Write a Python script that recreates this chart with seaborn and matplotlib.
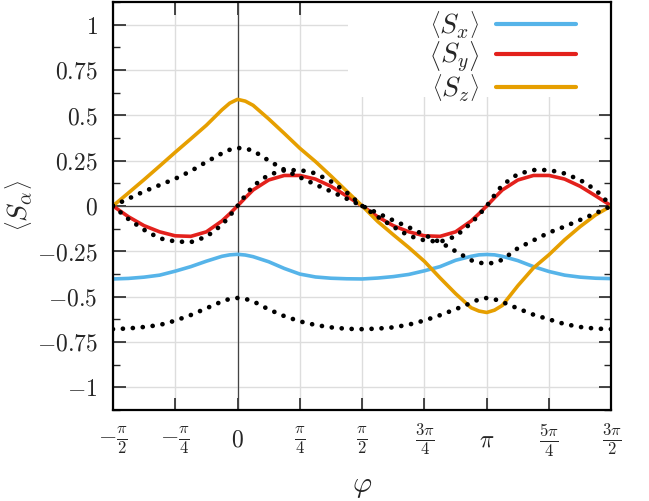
import numpy as np
import pandas as pd
import matplotlib
matplotlib.use("Agg")
import matplotlib.pyplot as plt
import seaborn as sns
from matplotlib.lines import Line2D
from matplotlib.patches import Rectangle

# sampling grid: multiples of pi/32 from -pi/2 to 3pi/2
phi_32nds = [-16, -14, -12, -10, -8, -6, -4, -2, -1, 0, 1, 2, 4, 6, 8, 10, 12, 14, 16,
             18, 20, 22, 24, 26, 28, 30, 31, 32, 33, 34, 36, 38, 40, 42, 44, 46, 48]

sx = [-0.403, -0.400, -0.393, -0.382, -0.360, -0.335, -0.305, -0.278, -0.270, -0.267,
      -0.271, -0.280, -0.308, -0.345, -0.376, -0.392, -0.399, -0.402, -0.403,
      -0.398, -0.390, -0.378, -0.358, -0.335, -0.300, -0.278, -0.270, -0.268,
      -0.270, -0.278, -0.302, -0.335, -0.362, -0.382, -0.393, -0.399, -0.401]
sy = [0.0, -0.060, -0.109, -0.143, -0.165, -0.168, -0.143, -0.083, -0.043, 0.0,
      0.045, 0.088, 0.143, 0.168, 0.168, 0.148, 0.108, 0.055, 0.0,
      -0.060, -0.109, -0.143, -0.165, -0.168, -0.143, -0.083, -0.043, 0.0,
      0.045, 0.088, 0.143, 0.168, 0.168, 0.148, 0.108, 0.055, 0.0]
sz = [0.0, 0.072, 0.145, 0.220, 0.296, 0.370, 0.445, 0.530, 0.567, 0.588,
      0.578, 0.555, 0.480, 0.400, 0.318, 0.245, 0.165, 0.082, 0.0,
      -0.086, -0.159, -0.230, -0.306, -0.397, -0.484, -0.562, -0.580, -0.588,
      -0.575, -0.549, -0.440, -0.342, -0.269, -0.187, -0.114, -0.049, 0.0]
sx_ref = [-0.680, -0.676, -0.668, -0.657, -0.633, -0.602, -0.565, -0.527, -0.513, -0.508,
          -0.513, -0.526, -0.571, -0.608, -0.637, -0.657, -0.670, -0.678, -0.680,
          -0.677, -0.670, -0.655, -0.632, -0.603, -0.570, -0.535, -0.515, -0.508,
          -0.515, -0.530, -0.566, -0.600, -0.626, -0.652, -0.668, -0.677, -0.680]
sy_ref = [0.0, -0.073, -0.132, -0.179, -0.196, -0.200, -0.170, -0.105, -0.055, 0.0,
          0.058, 0.110, 0.172, 0.196, 0.198, 0.180, 0.135, 0.075, 0.0,
          -0.060, -0.115, -0.165, -0.190, -0.198, -0.168, -0.095, -0.050, 0.0,
          0.060, 0.115, 0.176, 0.198, 0.198, 0.179, 0.143, 0.088, 0.0]
sz_ref = [0.0, 0.040, 0.080, 0.115, 0.150, 0.192, 0.243, 0.290, 0.310, 0.320,
          0.316, 0.305, 0.250, 0.200, 0.158, 0.118, 0.080, 0.040, 0.0,
          -0.040, -0.080, -0.118, -0.160, -0.200, -0.250, -0.300, -0.313, -0.319,
          -0.313, -0.297, -0.233, -0.190, -0.147, -0.114, -0.077, -0.040, 0.0]

series_labels = [r"$\left\langle S_x \right\rangle$",
                 r"$\left\langle S_y \right\rangle$",
                 r"$\left\langle S_z \right\rangle$"]
series_colors = ["#56B4E9", "#E3211C", "#E69F00"]

x_tick_quarters = [-2, -1, 0, 1, 2, 3, 4, 5, 6]
x_tick_labels = [r"$-\frac{\pi}{2}$", r"$-\frac{\pi}{4}$", r"$0$", r"$\frac{\pi}{4}$",
                 r"$\frac{\pi}{2}$", r"$\frac{3\pi}{4}$", r"$\pi$",
                 r"$\frac{5\pi}{4}$", r"$\frac{3\pi}{2}$"]
y_ticks = [-1, -0.75, -0.5, -0.25, 0, 0.25, 0.5, 0.75, 1]
y_tick_labels = [r"$-1$", r"$-0.75$", r"$-0.5$", r"$-0.25$", r"$0$",
                 r"$0.25$", r"$0.5$", r"$0.75$", r"$1$"]

sns.set_style("ticks")
plt.rcParams["font.family"] = ["DejaVu Serif"]
plt.rcParams["mathtext.fontset"] = "cm"

phi = np.array(phi_32nds) * np.pi / 32
df = pd.DataFrame({"phi": phi, "Sx": sx, "Sy": sy, "Sz": sz,
                   "Sx_ref": sx_ref, "Sy_ref": sy_ref, "Sz_ref": sz_ref})

fig = plt.figure(figsize=(6.49, 5.01), dpi=100)
ax = fig.add_axes([0.174, 0.182, 0.768, 0.814])

ax.set_xlim(-np.pi / 2, 3 * np.pi / 2)
ax.set_ylim(-1.125, 1.125)

ax.grid(True, which="major", color="#dddddd", lw=1.0, zorder=0)
ax.set_axisbelow(True)
ax.axhline(0, color="#444444", lw=0.9, zorder=1)
ax.axvline(0, color="#444444", lw=0.9, zorder=1)

for col, c in zip(["Sx", "Sy", "Sz"], series_colors):
    sns.lineplot(data=df, x="phi", y=col, ax=ax, color=c, lw=2.6,
                 zorder=3, legend=False, estimator=None, sort=False)
for col in ["Sx_ref", "Sy_ref", "Sz_ref"]:
    sns.lineplot(data=df, x="phi", y=col, ax=ax, color="black", lw=3.4,
                 linestyle=(0, (0.01, 2.1)), dash_capstyle="round",
                 zorder=4, legend=False, estimator=None, sort=False)

# legend background box (opaque key area)
ax.add_patch(Rectangle((0.471, 0.768), 0.529, 0.232, transform=ax.transAxes,
                       facecolor="white", edgecolor="none", zorder=2))

handles = [Line2D([0], [0], color=c, lw=3.0) for c in series_colors]
leg = ax.legend(handles, series_labels, loc="upper right", markerfirst=False,
                frameon=False, fontsize=20, handlelength=2.9,
                handletextpad=0.6, labelspacing=-0.05, borderaxespad=0.0,
                borderpad=0.27, bbox_to_anchor=(0.945, 1.0))

ax.set_xticks([q * np.pi / 4 for q in x_tick_quarters])
ax.set_xticklabels(x_tick_labels, va="center")
ax.set_yticks(y_ticks)
ax.set_yticklabels(y_tick_labels)
ax.set_yticks(np.arange(-1.125, 1.126, 0.125), minor=True)
ax.tick_params(axis="both", which="major", direction="in", length=9, width=1.2,
               top=True, right=True, labelsize=17)
ax.tick_params(axis="y", which="major", pad=11)
ax.tick_params(axis="x", which="major", pad=22)
ax.tick_params(axis="y", which="minor", direction="in", length=5, width=1.0,
               left=True, right=True)
ax.tick_params(axis="x", which="minor", bottom=False, top=False)
for sp in ax.spines.values():
    sp.set_linewidth(1.6)
    sp.set_color("black")
    sp.set_zorder(5)

ax.set_xlabel(r"$\varphi$", fontsize=21, labelpad=10)
ax.set_ylabel(r"$\left\langle S_\alpha \right\rangle$", fontsize=20, labelpad=2)

fig.savefig("out.png", dpi=100)
